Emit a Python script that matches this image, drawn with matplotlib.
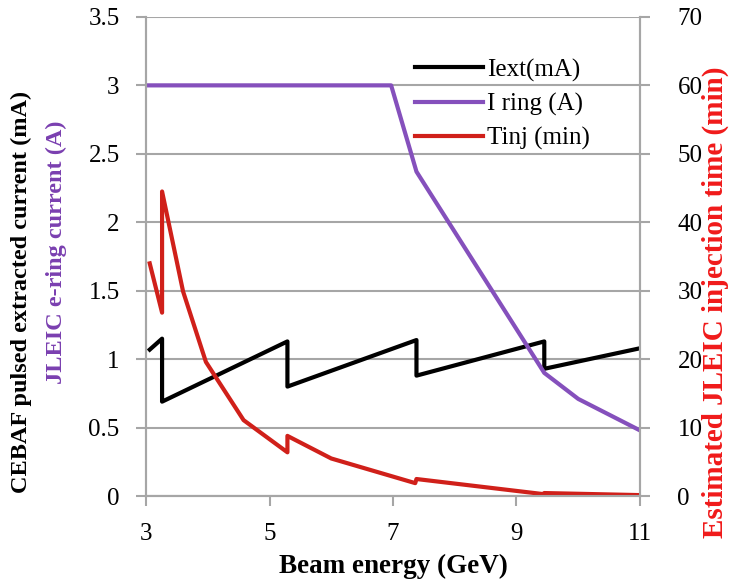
import numpy as np
import matplotlib
matplotlib.use("Agg")
import matplotlib.pyplot as plt

plt.rcParams['font.family'] = ['Liberation Serif', 'DejaVu Serif']

# Iext (mA), CEBAF pulsed extracted current - sawtooth
iext_x = [3.06, 3.26, 3.26, 5.29, 5.29, 7.38, 7.38, 9.45, 9.45, 11.0]
iext_y = [1.07, 1.15, 0.69, 1.13, 0.80, 1.14, 0.88, 1.13, 0.93, 1.08]

# I ring (A), JLEIC e-ring current
iring_x = [3.0, 6.97, 7.38, 9.45, 10.0, 11.0]
iring_y = [3.0, 3.0, 2.37, 0.90, 0.71, 0.48]

# Tinj (min), estimated injection time (right axis)
tinj_x = [3.06, 3.26, 3.26, 3.6, 3.97, 4.58, 5.29, 5.29, 6.0, 7.36, 7.38, 9.43, 9.45, 11.0]
tinj_y = [34.0, 26.8, 44.5, 29.9, 19.6, 11.1, 6.4, 8.8, 5.5, 1.9, 2.5, 0.3, 0.45, 0.15]

black = '#000000'
purple = '#8550BC'
red = '#D0201A'
grid = '#A6A6A6'

fig = plt.figure(figsize=(7.29, 5.83), dpi=100)
ax = fig.add_axes([0.2003, 0.149, 0.6776, 0.822])
ax2 = ax.twinx()

l1, = ax.plot(iext_x, iext_y, color=black, lw=3, label='Iext(mA)')
l2, = ax.plot(iring_x, iring_y, color=purple, lw=3, label='I ring (A)')
l3, = ax2.plot(tinj_x, tinj_y, color=red, lw=3, label='Tinj (min)')

ax.set_xlim(3, 11)
ax.set_ylim(0, 3.5)
ax2.set_ylim(0, 70)
ax.set_xticks([3, 5, 7, 9, 11])
ax.set_yticks(np.arange(0, 3.51, 0.5))
ax.set_yticklabels(['0', '0.5', '1', '1.5', '2', '2.5', '3', '3.5'])
ax2.set_yticks(np.arange(0, 71, 10))

ax.yaxis.grid(True, color=grid, lw=1.5)
ax.set_axisbelow(True)
for a in (ax, ax2):
    for s in a.spines.values():
        s.set_color(grid)
        s.set_linewidth(1.5)
    a.spines['top'].set_visible(False)
    a.tick_params(colors=grid, labelcolor='black', labelsize=18, width=1.5,
                  length=7, direction='out')
ax.tick_params(axis='x', pad=12)
ax.tick_params(axis='y', pad=12)
ax2.tick_params(axis='y', pad=20)

ax.set_xlabel('Beam energy (GeV)', fontsize=19.5, fontweight='bold', labelpad=7)

# axis titles placed by hand (two-colour left title, larger right title)
fig.text(0.981, 0.482, 'Estimated JLEIC injection time (min)', rotation=90,
         fontsize=21, fontweight='bold', color='#F01A1A', ha='center', va='center')
fig.text(0.030, 0.499, 'CEBAF pulsed extracted current (mA)', rotation=90,
         fontsize=17.5, fontweight='bold', ha='center', va='center')
fig.text(0.078, 0.568, 'JLEIC e-ring current (A)', rotation=90,
         fontsize=17.5, fontweight='bold', color='#7A3FB0', ha='center', va='center')

ax.legend(handles=[l1, l2, l3], loc='upper left', bbox_to_anchor=(0.525, 0.934),
          frameon=False, fontsize=18, handlelength=2.7, handletextpad=0.15,
          labelspacing=0.45, borderaxespad=0)

fig.savefig('out.png', dpi=100)
